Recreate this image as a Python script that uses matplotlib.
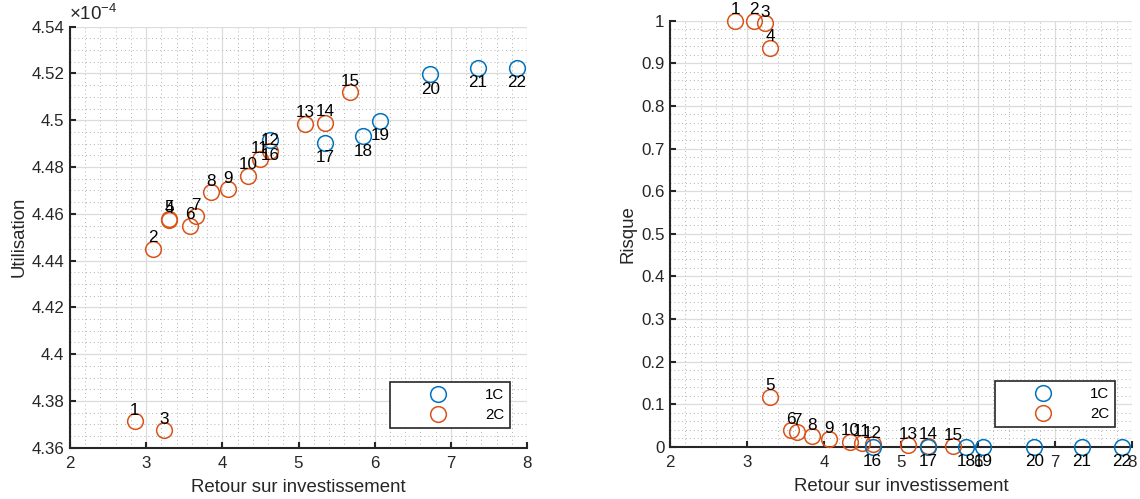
import numpy as np
import matplotlib
matplotlib.use('Agg')
import matplotlib.pyplot as plt
from matplotlib.ticker import MultipleLocator, FuncFormatter

plt.rcParams['font.family'] = ['Liberation Sans', 'DejaVu Sans']
plt.rcParams['mathtext.fontset'] = 'custom'
plt.rcParams['mathtext.rm'] = 'Liberation Sans'
plt.rcParams['mathtext.it'] = 'Liberation Sans:italic'

# 1C solutions (blue), numbered 16..22
ids_1c = [16, 17, 18, 19, 20, 21, 22]
roi_1c = [4.63, 5.35, 5.85, 6.07, 6.73, 7.35, 7.87]
util_1c = [4.4914e-4, 4.4904e-4, 4.4932e-4, 4.4998e-4, 4.5196e-4, 4.5224e-4, 4.5224e-4]
risk_1c = [0.0, 0.0, 0.0, 0.0, 0.0, 0.0, 0.0]

# 2C solutions (orange), numbered 1..15
ids_2c = list(range(1, 16))
roi_2c = [2.85, 3.09, 3.24, 3.30, 3.30, 3.57, 3.65, 3.85, 4.07, 4.34, 4.49, 4.63, 5.09, 5.35, 5.68]
util_2c = [4.3714e-4, 4.4450e-4, 4.3675e-4, 4.4575e-4, 4.4578e-4, 4.4550e-4, 4.4590e-4, 4.4693e-4,
           4.4704e-4, 4.4763e-4, 4.4833e-4, 4.4868e-4, 4.4985e-4, 4.4989e-4, 4.5120e-4]
risk_2c = [1.0, 1.0, 0.994, 0.937, 0.117, 0.039, 0.035, 0.024, 0.018, 0.012, 0.009, 0.006, 0.004, 0.002, 0.001]

blue = '#0072BD'
orange = '#D95319'
dark = '#262626'


def panel(ax, y1, y2, ylabel):
    h1, = ax.plot(roi_1c, y1, 'o', mfc='none', mec=blue, ms=11.3, mew=1.1, zorder=4, clip_on=False)
    h2, = ax.plot(roi_2c, y2, 'o', mfc='none', mec=orange, ms=11.3, mew=1.1, zorder=3, clip_on=False)
    for i, x, y in zip(ids_2c, roi_2c, y2):
        ax.annotate(str(i), (x, y), xytext=(0, 11), textcoords='offset pixels',
                    ha='center', va='center', fontsize=12.3, color='black', zorder=5)
    for i, x, y in zip(ids_1c, roi_1c, y1):
        ax.annotate(str(i), (x, y), xytext=(0, -15), textcoords='offset pixels',
                    ha='center', va='center', fontsize=12.3, color='black', zorder=5)

    ax.set_xlim(2, 8)
    ax.xaxis.set_major_locator(MultipleLocator(1))
    ax.xaxis.set_minor_locator(MultipleLocator(0.2))
    ax.grid(True, which='major', color='#dcdcdc', lw=0.9, ls='-')
    ax.grid(True, which='minor', color='#b4b4b4', lw=0.7, ls=(0, (1, 3)))
    ax.set_axisbelow(True)
    for s in ['top', 'right']:
        ax.spines[s].set_visible(False)
    for s in ['left', 'bottom']:
        ax.spines[s].set_linewidth(1.5)
        ax.spines[s].set_color(dark)
    ax.tick_params(which='major', direction='in', length=4.5, width=1.5, color=dark,
                   labelsize=12.2, labelcolor=dark, pad=4)
    ax.tick_params(axis='x', which='major', pad=6)
    ax.tick_params(which='minor', length=0)
    ax.set_xlabel('Retour sur investissement', fontsize=13.4, color=dark, labelpad=6)
    ax.set_ylabel(ylabel, fontsize=13.4, color=dark, labelpad=3)

    leg = ax.legend([h1, h2], ['1C', '2C'], loc='lower right', bbox_to_anchor=(0.963, 0.046),
                    fontsize=10.8, frameon=True, fancybox=False, framealpha=1,
                    handlelength=5.5, handletextpad=0.4, labelspacing=0.4, borderpad=0.4,
                    borderaxespad=0)
    leg.get_frame().set_edgecolor(dark)
    leg.get_frame().set_linewidth(1.2)
    for t in leg.get_texts():
        t.set_color('black')


fig = plt.figure(figsize=(11.4, 4.99), dpi=100)
ax1 = fig.add_axes([0.0614, 0.1028, 0.4009, 0.8437])
ax2 = fig.add_axes([0.5877, 0.1048, 0.4053, 0.8537])

panel(ax1, util_1c, util_2c, 'Utilisation')
ax1.set_ylim(4.36e-4, 4.54e-4)
ax1.yaxis.set_major_locator(MultipleLocator(0.02e-4))
ax1.yaxis.set_minor_locator(MultipleLocator(0.005e-4))
ax1.yaxis.set_major_formatter(FuncFormatter(lambda v, p: f'{round(v * 1e4, 4):g}'))
ax1.text(-0.002, 1.006, r'$\times10^{-4}$', transform=ax1.transAxes, ha='left', va='bottom',
         fontsize=13.5, color=dark)

panel(ax2, risk_1c, risk_2c, 'Risque')
ax2.set_ylim(0, 1)
ax2.yaxis.set_major_locator(MultipleLocator(0.1))
ax2.yaxis.set_minor_locator(MultipleLocator(0.02))
ax2.yaxis.set_major_formatter(FuncFormatter(lambda v, p: f'{round(v, 3):g}'))

fig.savefig('out.png', dpi=100)
